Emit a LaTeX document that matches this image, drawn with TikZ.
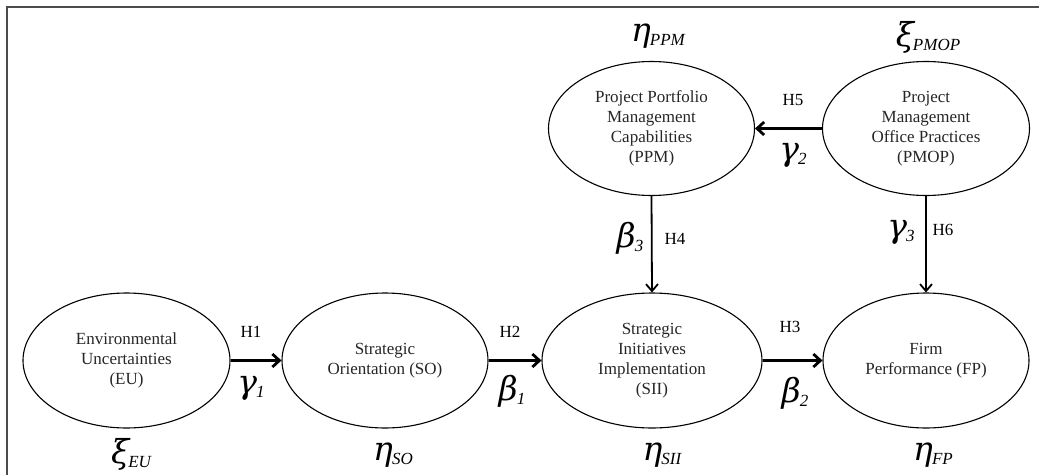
\documentclass[tikz,border=0pt]{standalone}
\usepackage{fontspec}
\setmainfont{Liberation Serif}
\newfontfamily\greekfont{DejaVu Serif}
\usetikzlibrary{arrows.meta,shapes.geometric}

% Greek coefficient with a small italic index set next to it
\newcommand{\coef}[2]{{\fontsize{33}{33}\selectfont\greekfont\itshape #1}\kern-1pt\raisebox{-4pt}{\fontsize{17}{17}\selectfont\itshape #2}}

\tikzset{
  construct/.style={ellipse, draw, line width=1.1pt, minimum width=206pt,
    minimum height=135pt, inner sep=0pt, align=center,
    font=\fontsize{17}{20}\selectfont, text=black!85},
  mainpath/.style={line width=2.8pt, -{Straight Barb[length=7pt,width=13pt]}},
  sidepath/.style={line width=1.8pt, -{Straight Barb[length=7pt,width=12pt]}},
  hyp/.style={inner sep=0pt, font=\fontsize{17}{18}\selectfont},
  coeflabel/.style={inner sep=0pt},
  frameline/.style={line width=1.8pt, draw=black!70}
}

\begin{document}
\begin{tikzpicture}[x=1pt,y=-1pt]
  \useasboundingbox (0,0) rectangle (1039,474);

  % outer frame (top and left edges)
  \draw[frameline] (7,480) -- (7,7) -- (1045,7);

  % constructs
  \node[construct, minimum width=207pt] (EU)  at (126.5,360.5) {Environmental\\Uncertainties\\(EU)};
  \node[construct] (SO)  at (385,360.5) {Strategic\\Orientation (SO)};
  \node[construct, minimum width=220pt] (SII) at (652,360.5) {Strategic\\Initiatives\\Implementation\\(SII)};
  \node[construct] (FP)  at (926,360.5) {Firm\\Performance (FP)};
  \node[construct, minimum height=134pt] (PPM) at (651.5,128.5) {Project Portfolio\\Management\\Capabilities\\(PPM)};
  \node[construct, minimum width=207pt, minimum height=134pt] (PMOP) at (926,128.5) {Project\\Management\\Office Practices\\(PMOP)};

  % paths
  \draw[mainpath] (EU.east) -- (SO.west);
  \draw[mainpath] (SO.east) -- (SII.west);
  \draw[mainpath] (SII.east) -- (FP.west);
  \draw[mainpath] (PMOP.west) -- (PPM.east);
  \draw[sidepath] (PPM.south) -- (SII.north);
  \draw[sidepath] (PMOP.south) -- (FP.north);

  % hypothesis labels
  \node[hyp] (h1) at (251,332) {H1};
  \node[hyp] (h2) at (510,332) {H2};
  \node[hyp] (h3) at (790,327) {H3};
  \node[hyp] (h4) at (675,239) {H4};
  \node[hyp] (h5) at (793,100) {H5};
  \node[hyp] (h6) at (943,230) {H6};

  % path coefficients
  \node[coeflabel] (g1) at (251,388) {\coef{γ}{1}};
  \node[coeflabel] (b1) at (512,391) {\coef{β}{1}};
  \node[coeflabel] (b2) at (795,393) {\coef{β}{2}};
  \node[coeflabel] (g2) at (793,155) {\coef{γ}{2}};
  \node[coeflabel] (b3) at (630,238) {\coef{β}{3}};
  \node[coeflabel] (g3) at (901,232) {\coef{γ}{3}};

  % latent variable symbols
  \node[coeflabel] (xEU)   at (131,454) {\coef{ξ}{EU}};
  \node[coeflabel] (eSO)   at (393,455) {\coef{η}{SO}};
  \node[coeflabel] (eSII)  at (662,455) {\coef{η}{SII}};
  \node[coeflabel] (eFP)   at (933,455) {\coef{η}{FP}};
  \node[coeflabel] (ePPM)  at (658,36)  {\coef{η}{PPM}};
  \node[coeflabel] (xPMOP) at (928,37)  {\coef{ξ}{PMOP}};
\end{tikzpicture}
\end{document}
